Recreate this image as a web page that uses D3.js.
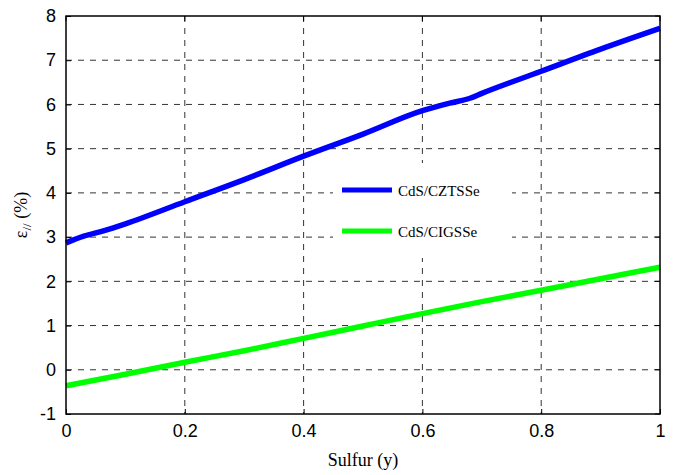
<!DOCTYPE html>
<html>
<head>
<meta charset="utf-8">
<script src="https://cdn.jsdelivr.net/npm/d3@7"></script>
<style>
  body { margin: 0; background: #fff; }
  svg { display: block; }
</style>
</head>
<body>
<div id="chart"></div>
<script>
// sulfur content (x) and strain values
var sulfurBlue = [0, 0.03, 0.063, 0.1, 0.2, 0.3, 0.4, 0.5, 0.6, 0.646, 0.68, 0.7, 0.8, 0.9, 1.0];
var czts = [2.87, 3.02, 3.14, 3.3, 3.8, 4.3, 4.83, 5.33, 5.86, 6.03, 6.14, 6.25, 6.75, 7.25, 7.72];
var sulfurGreen = [0, 0.1, 0.2, 0.3, 0.4, 0.5, 0.6, 0.7, 0.8, 0.9, 1.0];
var cigs = [-0.36, -0.1, 0.17, 0.43, 0.71, 0.99, 1.27, 1.54, 1.8, 2.06, 2.32];
var seriesNames = ["CdS/CZTSSe", "CdS/CIGSSe"];
var seriesColors = ["#0000ff", "#00ff00"];
var xTicks = [0, 0.2, 0.4, 0.6, 0.8, 1];
var yTicks = [-1, 0, 1, 2, 3, 4, 5, 6, 7, 8];

var width = 675, height = 475;
var margin = { top: 16, right: 15, bottom: 61, left: 66 };
var w = width - margin.left - margin.right,
    h = height - margin.top - margin.bottom;

var svg = d3.select("#chart").append("svg")
    .attr("width", width)
    .attr("height", height);

var g = svg.append("g")
    .attr("transform", "translate(" + margin.left + "," + margin.top + ")");

var x = d3.scaleLinear().domain([0, 1]).range([0, w]);
var y = d3.scaleLinear().domain([-1, 8]).range([h, 0]);

// grid
g.append("g").selectAll("line")
    .data(xTicks.slice(1, -1))
    .enter().append("line")
    .attr("x1", d => x(d)).attr("x2", d => x(d))
    .attr("y1", 0).attr("y2", h)
    .attr("stroke", "#333").attr("stroke-width", 1)
    .attr("stroke-dasharray", "6,6");
g.append("g").selectAll("line")
    .data(yTicks.slice(1, -1))
    .enter().append("line")
    .attr("y1", d => y(d)).attr("y2", d => y(d))
    .attr("x1", 0).attr("x2", w)
    .attr("stroke", "#333").attr("stroke-width", 1)
    .attr("stroke-dasharray", "6,6");

// axes (inner ticks, matlab style)
var plain = d => String(d);
var xAxis = g.append("g")
    .attr("transform", "translate(0," + h + ")")
    .call(d3.axisBottom(x).tickValues(xTicks).tickFormat(plain).tickSizeInner(-5).tickSizeOuter(0).tickPadding(10));
var yAxis = g.append("g")
    .call(d3.axisLeft(y).tickValues(yTicks).tickFormat(plain).tickSizeInner(-5).tickSizeOuter(0).tickPadding(10));
[xAxis, yAxis].forEach(a => {
    a.select(".domain").remove();
    a.selectAll("line").attr("stroke", "#000");
    a.selectAll("text")
        .style("font-family", "'Liberation Sans', Arial, sans-serif")
        .style("font-size", "18px")
        .attr("fill", "#000");
});
// top/right ticks
g.append("g").selectAll("line").data(xTicks).enter().append("line")
    .attr("x1", d => x(d)).attr("x2", d => x(d)).attr("y1", 0).attr("y2", 5)
    .attr("stroke", "#000");
g.append("g").selectAll("line").data(yTicks).enter().append("line")
    .attr("y1", d => y(d)).attr("y2", d => y(d)).attr("x1", w).attr("x2", w - 5)
    .attr("stroke", "#000");

// lines
var line = d3.line()
    .x(d => x(d[0]))
    .y(d => y(d[1]))
    .curve(d3.curveMonotoneX);

g.append("path")
    .datum(sulfurBlue.map((s, i) => [s, czts[i]]))
    .attr("d", line)
    .attr("fill", "none")
    .attr("stroke", seriesColors[0])
    .attr("stroke-width", 5.5);

g.append("path")
    .datum(sulfurGreen.map((s, i) => [s, cigs[i]]))
    .attr("d", line)
    .attr("fill", "none")
    .attr("stroke", seriesColors[1])
    .attr("stroke-width", 5.5);

// frame
g.append("rect")
    .attr("width", w).attr("height", h)
    .attr("fill", "none")
    .attr("stroke", "#000")
    .attr("stroke-width", 1.5);

// legend
var legend = g.append("g")
    .attr("transform", "translate(" + (333 - margin.left) + "," + (163 - margin.top) + ")");
legend.append("rect")
    .attr("width", 179).attr("height", 95)
    .attr("fill", "#fff");
seriesNames.forEach((name, i) => {
    var ly = 27 + i * 41;
    legend.append("line")
        .attr("x1", 9).attr("x2", 59)
        .attr("y1", ly).attr("y2", ly)
        .attr("stroke", seriesColors[i])
        .attr("stroke-width", 5);
    legend.append("text")
        .attr("x", 65).attr("y", ly + 6)
        .style("font-family", "'Liberation Serif', 'Times New Roman', serif")
        .style("font-size", "15px")
        .text(name);
});

// axis labels
svg.append("text")
    .attr("x", margin.left + w / 2)
    .attr("y", 466)
    .attr("text-anchor", "middle")
    .style("font-family", "'Liberation Serif', 'Times New Roman', serif")
    .style("font-size", "18px")
    .text("Sulfur (y)");

var ylab = svg.append("text")
    .attr("transform", "translate(27," + (margin.top + h / 2) + ") rotate(-90)")
    .attr("text-anchor", "middle")
    .style("font-family", "'Liberation Serif', 'Times New Roman', serif")
    .style("font-size", "18px");
ylab.append("tspan").text("ε");
ylab.append("tspan").attr("dy", 4).style("font-size", "13px").text("//");
ylab.append("tspan").attr("dy", -4).text(" (%)");
</script>
</body>
</html>
